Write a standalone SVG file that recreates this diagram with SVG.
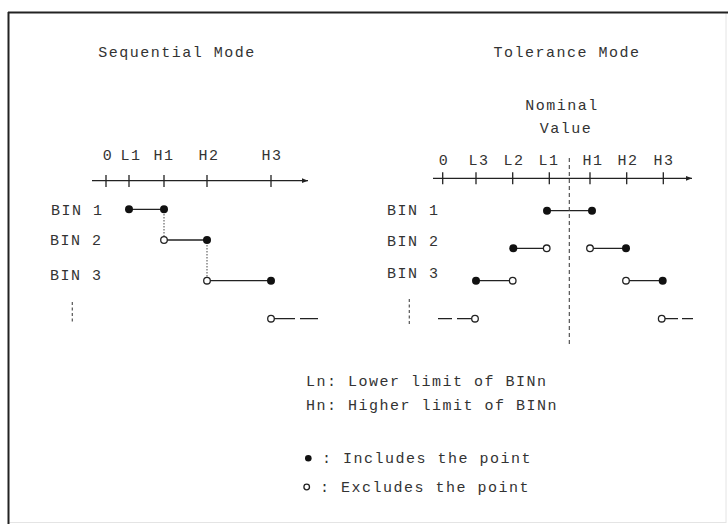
<svg xmlns="http://www.w3.org/2000/svg" width="728" height="528" viewBox="0 0 728 528">
<defs>
<style>
text{font-family:"Liberation Mono","DejaVu Sans Mono",monospace;font-size:15px;fill:#333;letter-spacing:1.5px}
.c{text-anchor:middle}
.ax{stroke:#222;stroke-width:1.3;fill:none}
.seg{stroke:#222;stroke-width:1.3;fill:none}
.dot{fill:#111}
.open{fill:#fff;stroke:#222;stroke-width:1.3}
.dotv{stroke:#666;stroke-width:1.2;stroke-dasharray:1.5 1.5;fill:none}
.nom{stroke:#444;stroke-width:1.1;stroke-dasharray:4 3;fill:none}
</style>
<marker id="arr" viewBox="0 0 10 10" refX="10" refY="5" markerWidth="8" markerHeight="6" markerUnits="userSpaceOnUse" orient="auto">
<path d="M0,1 L10,5 L0,9 Z" fill="#222"/>
</marker>
</defs>
<rect width="728" height="528" fill="#fff"/>
<g id="frame">
<line x1="726" y1="12" x2="726" y2="523" stroke="#e4e4e4" stroke-width="1"/>
<line x1="8" y1="522.5" x2="726" y2="522.5" stroke="#e4e4e4" stroke-width="1"/>
<line x1="8" y1="12.5" x2="728" y2="12.5" stroke="#222" stroke-width="2"/>
<line x1="8.5" y1="12" x2="8.5" y2="524" stroke="#222" stroke-width="2"/>
</g>
<g id="titles">
<text class="c" x="177" y="57">Sequential Mode</text>
<text class="c" x="567" y="57">Tolerance Mode</text>
</g>
<g id="seq-axis">
<line class="ax" x1="92" y1="180.7" x2="308" y2="180.7" marker-end="url(#arr)"/>
<path class="ax" d="M106,175V187M129,175V187M164,175V187M207,175V187M271,175V187"/>
<text class="c" x="108" y="160">0</text>
<text class="c" x="131" y="160">L1</text>
<text class="c" x="164" y="160">H1</text>
<text class="c" x="209" y="160">H2</text>
<text class="c" x="272" y="160">H3</text>
</g>
<g id="seq-bins">
<text x="51" y="215">BIN 1</text>
<text x="50" y="245">BIN 2</text>
<text x="50" y="280">BIN 3</text>
<line x1="72.3" y1="302" x2="72.3" y2="324" stroke="#555" stroke-width="1.2" stroke-dasharray="3 2.5"/>
</g>
<g id="connectors">
<line class="seg" x1="129" y1="209.3" x2="164" y2="209.3"/>
<line class="seg" x1="164" y1="240" x2="207" y2="240"/>
<line class="seg" x1="207" y1="280.7" x2="271" y2="280.7"/>
<path class="seg" d="M274,318.7H295M300,318.7H318"/>
<line class="dotv" x1="164" y1="214" x2="164" y2="236"/>
<line class="dotv" x1="207" y1="245" x2="207" y2="277"/>
<line class="seg" x1="547" y1="210.7" x2="592" y2="210.7"/>
<line class="seg" x1="513.3" y1="248.3" x2="546.7" y2="248.3"/>
<line class="seg" x1="590" y1="248.3" x2="626" y2="248.3"/>
<line class="seg" x1="476" y1="280.7" x2="512.7" y2="280.7"/>
<line class="seg" x1="626" y1="280.7" x2="662.7" y2="280.7"/>
<path class="seg" d="M438,318.7H452M457,318.7H472"/>
<path class="seg" d="M665,318.7H678M682,318.7H693"/>
<line class="nom" x1="569.3" y1="158" x2="569.3" y2="345"/>
</g>
<g id="seq-points">
<circle class="dot" cx="129" cy="209.3" r="4"/>
<circle class="dot" cx="164" cy="209.3" r="4"/>
<circle class="open" cx="164" cy="240" r="3.3"/>
<circle class="dot" cx="207" cy="240" r="4"/>
<circle class="open" cx="207" cy="280.7" r="3.3"/>
<circle class="dot" cx="271" cy="280.7" r="4"/>
<circle class="open" cx="271" cy="318.7" r="3.3"/>
</g>
<g id="tol-axis">
<text class="c" x="562" y="110">Nominal</text>
<text class="c" x="566" y="133">Value</text>
<line class="ax" x1="433" y1="178.3" x2="692" y2="178.3" marker-end="url(#arr)"/>
<path class="ax" d="M442.7,172.3V184.3M476,172.3V184.3M512.7,172.3V184.3M549.3,172.3V184.3M590,172.3V184.3M626.7,172.3V184.3M663.3,172.3V184.3"/>
<text class="c" x="444" y="165">0</text>
<text class="c" x="479" y="165">L3</text>
<text class="c" x="514" y="165">L2</text>
<text class="c" x="549" y="165">L1</text>
<text class="c" x="593" y="165">H1</text>
<text class="c" x="628" y="165">H2</text>
<text class="c" x="664" y="165">H3</text>
</g>
<g id="tol-bins">
<text x="387" y="215">BIN 1</text>
<text x="387" y="246">BIN 2</text>
<text x="387" y="278">BIN 3</text>
<line x1="409.3" y1="299" x2="409.3" y2="325" stroke="#555" stroke-width="1.2" stroke-dasharray="3 2.5"/>
</g>
<g id="tol-points">
<circle class="dot" cx="547" cy="210.7" r="4"/>
<circle class="dot" cx="592" cy="210.7" r="4"/>
<circle class="dot" cx="513.3" cy="248.3" r="4"/>
<circle class="open" cx="546.7" cy="248.3" r="3.3"/>
<circle class="open" cx="590" cy="248.3" r="3.3"/>
<circle class="dot" cx="626" cy="248.3" r="4"/>
<circle class="dot" cx="476" cy="280.7" r="4"/>
<circle class="open" cx="512.7" cy="280.7" r="3.3"/>
<circle class="open" cx="626" cy="280.7" r="3.3"/>
<circle class="dot" cx="662.7" cy="280.7" r="4"/>
<circle class="open" cx="475" cy="318.7" r="3.3"/>
<circle class="open" cx="661.7" cy="318.7" r="3.3"/>
</g>
<g id="legend">
<text x="306" y="386">Ln: Lower limit of BINn</text>
<text x="306" y="410">Hn: Higher limit of BINn</text>
<circle class="dot" cx="308.3" cy="458.3" r="3.3"/>
<text x="322" y="463">: Includes the point</text>
<circle class="open" cx="306.7" cy="487" r="2.8"/>
<text x="320" y="492">: Excludes the point</text>
</g>
</svg>
